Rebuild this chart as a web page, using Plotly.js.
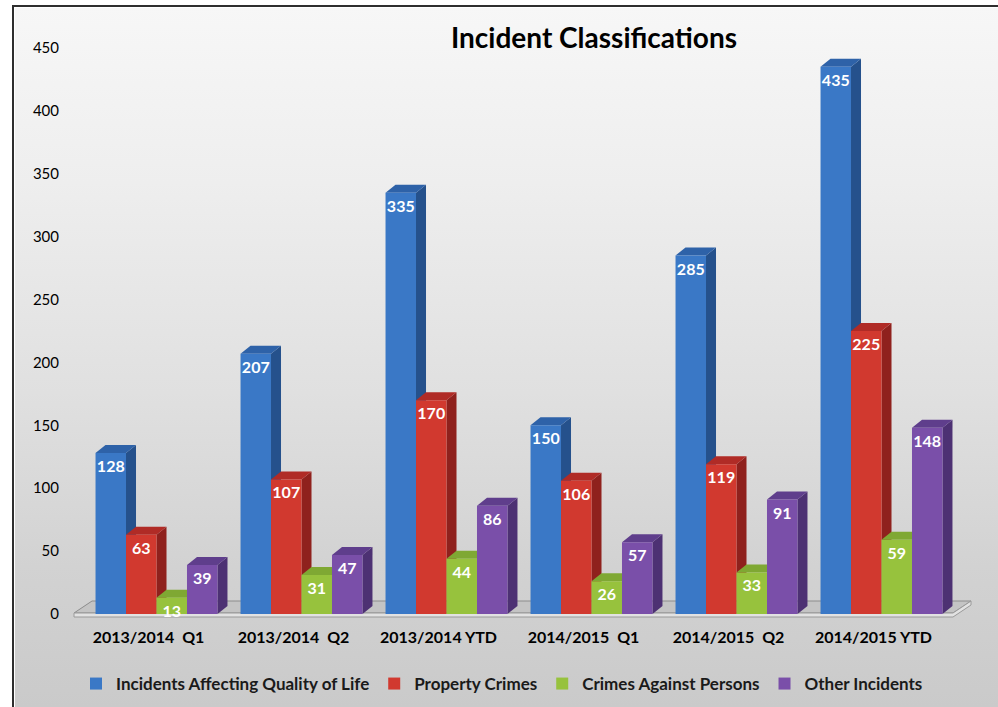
<!DOCTYPE html>
<html>
<head>
<meta charset="utf-8">
<script src="https://cdn.plot.ly/plotly-3.0.1.min.js"></script>
<style>
  html, body { margin: 0; padding: 0; background: #ffffff; }
  #frame {
    position: absolute; left: 12px; top: 5px; width: 984px; height: 700px;
    border-left: 2px solid #2e2e2e; border-top: 2px solid #2e2e2e;
    border-right: 2px solid #bdbdbd; border-bottom: 2px solid #bdbdbd;
    background: linear-gradient(to bottom, #f7f7f7 0%, #eeeeee 25%, #e0e0e0 55%, #d2d2d2 80%, #cacaca 100%);
    box-shadow: inset 1px 1px 0 #ffffff;
  }
  #chart { position: absolute; left: 0; top: 0; width: 998px; height: 707px; }
</style>
</head>
<body>
<div id="frame"></div>
<div id="chart"></div>
<script>
// ---- data ----
const categories = ["2013/2014\u00a0 Q1", "2013/2014\u00a0 Q2", "2013/2014 YTD", "2014/2015\u00a0 Q1", "2014/2015\u00a0 Q2", "2014/2015 YTD"];
const seriesNames = ["Incidents Affecting Quality of Life", "Property Crimes", "Crimes Against Persons", "Other Incidents"];
const qualityOfLife = [128, 207, 335, 150, 285, 435];
const propertyCrimes = [63, 107, 170, 106, 119, 225];
const crimesAgainstPersons = [13, 31, 44, 26, 33, 59];
const otherIncidents = [39, 47, 86, 57, 91, 148];
const yTicks = [0, 50, 100, 150, 200, 250, 300, 350, 400, 450];

// ---- style ----
const frontColors = ["#3a78c6", "#d1392f", "#97c23d", "#7a4fa9"];
const sideColors  = ["#25518c", "#8f211d", "#6a8d29", "#4d3173"];
const topColors   = ["#2e62a8", "#b02b26", "#7fa833", "#5f3e8c"];
const W = 998, H = 707;
const M = { l: 84, r: 44, t: 48, b: 93 };
const plotW = W - M.l - M.r, plotH = H - M.t - M.b;
const Y_MAX = 450;
const BARGAP = 0.159;
const DEPTH_X_PX = 10, DEPTH_Y_PX = 8;
const FONT = "Lato, 'Open Sans', sans-serif";

const seriesValues = [qualityOfLife, propertyCrimes, crimesAgainstPersons, otherIncidents];
const nCat = categories.length;
const pxPerCat = plotW / nCat;
const pxPerY = plotH / Y_MAX;
const ddx = DEPTH_X_PX / pxPerCat;
const ddy = DEPTH_Y_PX / pxPerY;
const groupW = 1 - BARGAP;
const barW = groupW / seriesValues.length;

const traces = seriesValues.map((vals, k) => ({
  type: "bar",
  name: seriesNames[k],
  x: categories,
  y: vals,
  marker: { color: frontColors[k], line: { width: 0 } },
  text: vals.map(String),
  textposition: "inside",
  insidetextanchor: "end",
  textangle: 0,
  constraintext: "none",
  cliponaxis: false,
  textfont: { family: FONT, size: 16, color: "#ffffff", weight: "bold" },
  hoverinfo: "skip"
}));

// floor (decoration) in paper coordinates
function px2paperX(px) { return (px - M.l) / plotW; }
function px2paperY(py) { return (M.t + plotH - py) / plotH; }
const floorFrontY = M.t + plotH - 1, floorBackY = floorFrontY - 12;
const floorL = M.l - 10, floorR = M.l + plotW - 1;
const shapes = [];
shapes.push({
  type: "path", xref: "paper", yref: "paper", layer: "below",
  path: `M${px2paperX(floorL)},${px2paperY(floorFrontY)} L${px2paperX(floorL + 18)},${px2paperY(floorBackY)} L${px2paperX(floorR + 18)},${px2paperY(floorBackY)} L${px2paperX(floorR)},${px2paperY(floorFrontY)} Z`,
  fillcolor: "#c4c4c4", line: { color: "#8c8c8c", width: 1 }
});
shapes.push({
  type: "path", xref: "paper", yref: "paper", layer: "below",
  path: `M${px2paperX(floorL)},${px2paperY(floorFrontY)} L${px2paperX(floorR)},${px2paperY(floorFrontY)} L${px2paperX(floorR + 18)},${px2paperY(floorBackY)} L${px2paperX(floorR + 18)},${px2paperY(floorBackY + 4)} L${px2paperX(floorR)},${px2paperY(floorFrontY + 4)} L${px2paperX(floorL)},${px2paperY(floorFrontY + 4)} Z`,
  fillcolor: "#e2e2e2", line: { color: "#9a9a9a", width: 1 }
});

// 3D side and top faces computed from the data values
for (let i = 0; i < nCat; i++) {
  for (let k = 0; k < seriesValues.length; k++) {
    const v = seriesValues[k][i];
    const left = i - groupW / 2 + k * barW;
    const right = left + barW;
    shapes.push({
      type: "path", xref: "x", yref: "y", layer: "below",
      path: `M${right},0 L${right + ddx},${ddy} L${right + ddx},${v + ddy} L${right},${v} Z`,
      fillcolor: sideColors[k], line: { width: 0 }
    });
    shapes.push({
      type: "path", xref: "x", yref: "y", layer: "below",
      path: `M${left},${v} L${left + ddx},${v + ddy} L${right + ddx},${v + ddy} L${right},${v} Z`,
      fillcolor: topColors[k], line: { width: 0 }
    });
  }
}

const layout = {
  width: W, height: H,
  margin: M,
  paper_bgcolor: "rgba(0,0,0,0)",
  plot_bgcolor: "rgba(0,0,0,0)",
  font: { family: FONT, color: "#000000" },
  title: {
    text: "<b>Incident Classifications</b>",
    font: { family: FONT, size: 28, color: "#000000" },
    x: 594 / W, xref: "container", xanchor: "center",
    y: 1 - 38 / H, yref: "container", yanchor: "middle"
  },
  barmode: "group",
  bargap: BARGAP,
  bargroupgap: 0,
  showlegend: true,
  legend: {
    orientation: "h",
    xref: "container",
    x: 76 / W, xanchor: "left",
    y: 1 - 684 / H, yref: "container", yanchor: "middle",
    font: { family: FONT, size: 17, color: "#1a1a1a", weight: "bold" },
    bgcolor: "rgba(0,0,0,0)",
    traceorder: "normal"
  },
  xaxis: {
    type: "category",
    categoryorder: "array", categoryarray: categories,
    showgrid: false, zeroline: false, showline: false,
    ticks: "",
    tickfont: { family: FONT, size: 16, color: "#000000", weight: "bold" },
    ticklabelstandoff: 12,
    ticklabelshift: -8,
    fixedrange: true
  },
  yaxis: {
    range: [0, Y_MAX],
    tickvals: yTicks,
    showgrid: false, zeroline: false, showline: false,
    ticks: "",
    tickfont: { family: FONT, size: 15, color: "#000000" },
    ticklabelstandoff: 24,
    fixedrange: true
  },
  shapes: shapes
};

Plotly.newPlot("chart", traces, layout, { displayModeBar: false, staticPlot: true });
</script>
</body>
</html>
